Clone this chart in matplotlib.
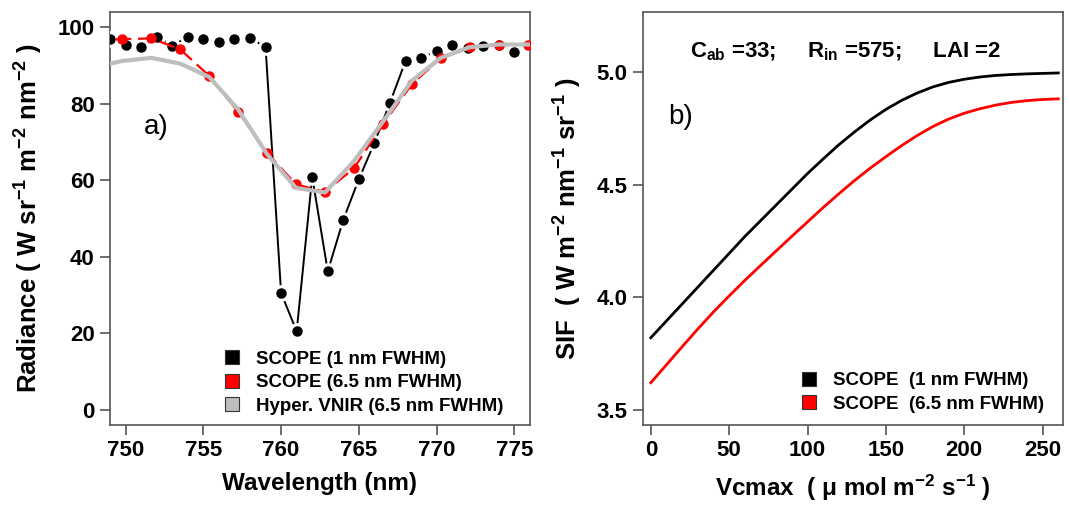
import matplotlib
matplotlib.use('Agg')
import matplotlib.pyplot as plt
from matplotlib.lines import Line2D

plt.rcParams['font.family'] = ['Liberation Sans', 'DejaVu Sans']
plt.rcParams['mathtext.default'] = 'regular'

# panel a: radiance around the O2-A band
wl_1nm = [749, 750, 751, 752, 753, 754, 755, 756, 757, 758, 759, 760, 761, 762,
          763, 764, 765, 766, 767, 768, 769, 770, 771, 772, 773, 774, 775]
rad_1nm = [96.9, 95.4, 94.8, 97.5, 95.2, 97.5, 96.9, 96.2, 96.9, 97.1, 94.9,
           30.5, 20.5, 60.9, 36.2, 49.7, 60.3, 69.8, 80.3, 91.2, 92.0, 93.8,
           95.3, 94.5, 95.0, 95.4, 93.5]

wl_65nm = [747.94, 749.80, 751.66, 753.52, 755.38, 757.24, 759.10, 760.96,
           762.82, 764.68, 766.54, 768.40, 770.26, 772.12, 773.98, 775.84]
rad_65nm = [96.6, 96.9, 97.1, 94.2, 87.3, 77.9, 67.2, 58.9, 57.0, 63.1, 74.6,
            85.1, 91.9, 94.8, 95.4, 95.4]

wl_vnir = [747.94, 749.80, 751.66, 753.52, 755.38, 757.24, 759.10, 760.96,
           762.82, 764.68, 766.54, 768.40, 770.26, 772.12, 773.98, 775.84, 777.70]
rad_vnir = [89.6, 91.2, 92.0, 90.5, 87.0, 78.5, 66.8, 58.0, 56.8, 65.0, 75.3,
            86.0, 92.0, 94.8, 95.5, 95.5, 95.3]

# panel b: SIF vs Vcmax
vcmax = [0, 10, 20, 30, 40, 50, 60, 70, 80, 90, 100, 110, 120, 130, 140, 150,
         160, 170, 180, 190, 200, 210, 220, 230, 240, 250, 260]
sif_1nm = [3.820, 3.895, 3.970, 4.045, 4.120, 4.195, 4.270, 4.340, 4.410,
           4.480, 4.550, 4.615, 4.678, 4.735, 4.788, 4.835, 4.875, 4.908,
           4.935, 4.955, 4.969, 4.979, 4.986, 4.990, 4.993, 4.995, 4.997]
sif_65nm = [3.620, 3.700, 3.780, 3.859, 3.935, 4.006, 4.075, 4.141, 4.206,
            4.271, 4.335, 4.399, 4.460, 4.519, 4.574, 4.625, 4.674, 4.719,
            4.759, 4.792, 4.818, 4.838, 4.854, 4.866, 4.874, 4.879, 4.882]

legend_a = ['SCOPE (1 nm FWHM)', 'SCOPE (6.5 nm FWHM)', 'Hyper. VNIR (6.5 nm FWHM)']
legend_b = ['SCOPE  (1 nm FWHM)', 'SCOPE  (6.5 nm FWHM)']

W, H = 1069, 505
fig = plt.figure(figsize=(W / 100, H / 100), dpi=100)
ax1 = fig.add_axes([110 / W, 80 / H, 420 / W, 413 / H])
ax2 = fig.add_axes([643 / W, 80 / H, 420 / W, 413 / H])

axcol = '#555555'
grey = '#BEBEBE'


def style_axes(ax):
    for s in ax.spines.values():
        s.set_color(axcol)
        s.set_linewidth(1.2)
    ax.tick_params(axis='both', direction='out', length=7, width=1.2,
                   color=axcol, labelsize=16, pad=4)
    for lab in ax.get_xticklabels() + ax.get_yticklabels():
        lab.set_fontweight('bold')


# --- a) ---
ax1.plot(wl_1nm, rad_1nm, color='black', lw=1.4, zorder=2)
ax1.plot(wl_1nm, rad_1nm, 'o', color='white', ms=11, zorder=3)
ax1.plot(wl_1nm, rad_1nm, 'o', color='black', ms=6.5, zorder=4)
ax1.plot(wl_65nm, rad_65nm, color='red', lw=1.6, ls=(0, (7, 3)), zorder=5)
ax1.plot(wl_65nm, rad_65nm, 'o', color='red', ms=6.5, zorder=6)
ax1.plot(wl_vnir, rad_vnir, color=grey, lw=3, zorder=7)

ax1.set_xlim(749, 776)
ax1.set_ylim(-4, 104)
ax1.set_xticks([750, 755, 760, 765, 770, 775])
ax1.set_yticks([0, 20, 40, 60, 80, 100])
style_axes(ax1)
ax1.set_xlabel('Wavelength (nm)', fontsize=17.5, fontweight='bold', labelpad=8)
ax1.set_ylabel(r'Radiance ( W sr$^{-1}$ m$^{-2}$ nm$^{-2}$ )', fontsize=18.5,
               fontweight='bold', labelpad=9)
ax1.text(751.2, 74, 'a)', fontsize=20, va='center', ha='left')

h1 = [Line2D([], [], ls='none', marker='s', ms=10, mfc=c, mec='#333333', mew=0.8)
      for c in ['black', 'red', grey]]
ax1.legend(h1, legend_a, loc='lower left', bbox_to_anchor=(0.251, 0.006),
           frameon=False, handlelength=1.0, handletextpad=0.78,
           labelspacing=0.35, borderaxespad=0,
           prop={'size': 13.5, 'weight': 'bold'})

# --- b) ---
ax2.plot(vcmax, sif_1nm, color='black', lw=2)
ax2.plot(vcmax, sif_65nm, color='red', lw=2)
ax2.set_xlim(-5, 263)
ax2.set_ylim(3.432, 5.268)
ax2.set_xticks([0, 50, 100, 150, 200, 250])
ax2.set_yticks([3.5, 4.0, 4.5, 5.0])
ax2.set_yticklabels(['3.5', '4.0', '4.5', '5.0'])
style_axes(ax2)
ax2.set_xlabel(r'Vcmax  ( μ mol m$^{-2}$ s$^{-1}$ )', fontsize=17.5,
               fontweight='bold', labelpad=8)
ax2.set_ylabel(r'SIF  ( W m$^{-2}$ nm$^{-1}$ sr$^{-1}$ )', fontsize=18.5,
               fontweight='bold', labelpad=9)
ax2.text(11, 4.80, 'b)', fontsize=20, va='center', ha='left')
ax2.text(124, 5.09, r'C$_{ab}$ =33;     R$_{in}$ =575;     LAI =2',
         fontsize=16, fontweight='bold', ha='center', va='center')

h2 = [Line2D([], [], ls='none', marker='s', ms=10, mfc=c, mec='#333333', mew=0.8)
      for c in ['black', 'red']]
ax2.legend(h2, legend_b, loc='lower left', bbox_to_anchor=(0.354, 0.011),
           frameon=False, handlelength=1.0, handletextpad=0.78,
           labelspacing=0.35, borderaxespad=0,
           prop={'size': 13.5, 'weight': 'bold'})

fig.savefig('out.png', dpi=100)
